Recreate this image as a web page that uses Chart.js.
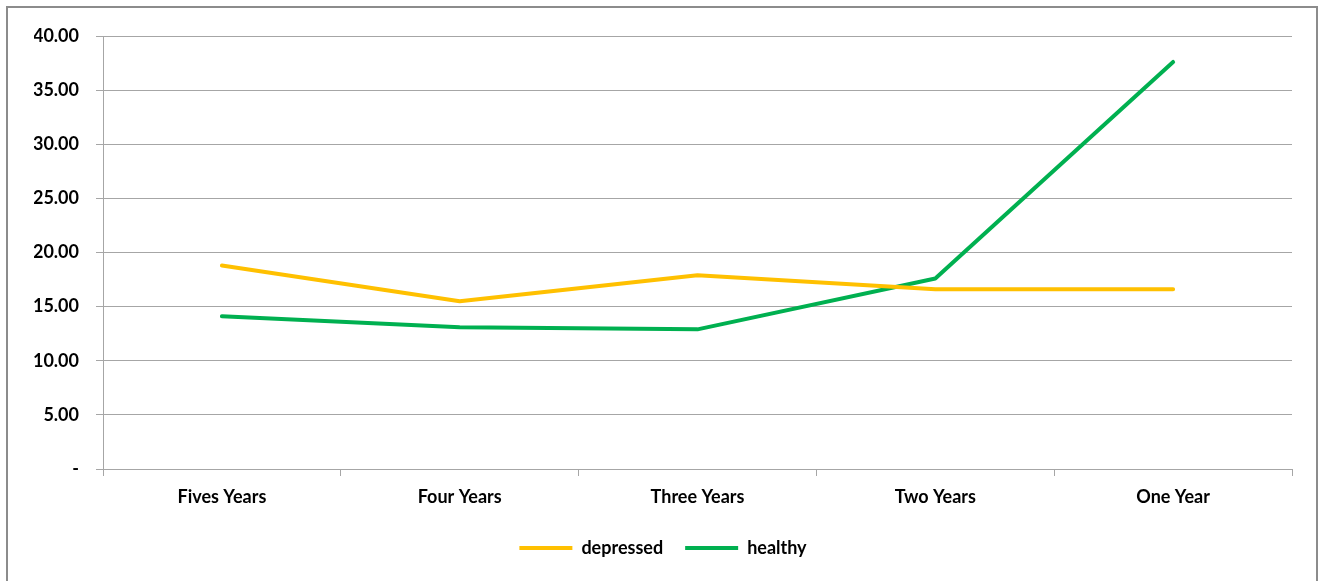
<!DOCTYPE html>
<html>
<head>
<meta charset="utf-8">
<script src="https://cdn.jsdelivr.net/npm/chart.js@4/dist/chart.umd.min.js"></script>
<style>
  html, body { margin: 0; padding: 0; background: #ffffff; }
  #wrap { position: relative; width: 1325px; height: 581px; }
</style>
</head>
<body>
<div id="wrap"><canvas id="chart" width="1325" height="581"></canvas></div>
<script>
// Time before event, one category per year
const categories = ['Fives Years', 'Four Years', 'Three Years', 'Two Years', 'One Year'];

// Series values
const depressed = [18.8, 15.5, 17.9, 16.6, 16.6];
const healthy = [14.1, 13.1, 12.9, 17.6, 37.6];

// Value axis labels, bottom to top
const yTickLabels = ['-', '5.00', '10.00', '15.00', '20.00', '25.00', '30.00', '35.00', '40.00'];

const FONT = 'Lato, "Open Sans", "Liberation Sans", sans-serif';
const GRID = '#a6a6a6';
const TEXT_FONT = { family: FONT, size: 18, weight: 'bold' };

// Thin grey frame around the whole chart
const framePlugin = {
  id: 'frame',
  beforeDraw(chart) {
    const ctx = chart.ctx;
    ctx.save();
    ctx.fillStyle = '#ffffff';
    ctx.fillRect(0, 0, chart.width, chart.height);
    ctx.strokeStyle = '#8c8c8c';
    ctx.lineWidth = 2;
    ctx.strokeRect(7, 7, 1310, 640);
    ctx.restore();
  }
};

new Chart(document.getElementById('chart'), {
  type: 'line',
  data: {
    labels: categories,
    datasets: [
      {
        label: 'depressed',
        data: depressed,
        borderColor: '#ffc000',
        backgroundColor: '#ffc000',
        borderWidth: 4,
        borderCapStyle: 'round',
        borderJoinStyle: 'round',
        pointRadius: 0,
        tension: 0
      },
      {
        label: 'healthy',
        data: healthy,
        borderColor: '#00b050',
        backgroundColor: '#00b050',
        borderWidth: 4,
        borderCapStyle: 'round',
        borderJoinStyle: 'round',
        pointRadius: 0,
        tension: 0
      }
    ]
  },
  options: {
    responsive: false,
    animation: false,
    layout: { padding: { top: 36, right: 33, left: 34, bottom: 14 } },
    plugins: {
      tooltip: { enabled: false },
      legend: {
        position: 'bottom',
        labels: {
          font: TEXT_FONT,
          color: '#000000',
          boxWidth: 53,
          boxHeight: 4,
          padding: 22,
          generateLabels(chart) {
            return chart.data.datasets.map((ds, i) => ({
              text: ds.label,
              fillStyle: ds.borderColor,
              strokeStyle: ds.borderColor,
              lineWidth: 0,
              hidden: false,
              datasetIndex: i,
              fontColor: '#000000'
            }));
          }
        }
      }
    },
    scales: {
      x: {
        offset: true,
        grid: {
          offset: true,
          drawOnChartArea: false,
          drawTicks: true,
          tickLength: 7,
          color: GRID
        },
        border: { display: true, color: GRID, width: 1 },
        ticks: {
          padding: 10,
          color: '#000000',
          font: TEXT_FONT
        },
        afterFit(scale) { scale.height = 48; }
      },
      y: {
        min: 0,
        max: 40,
        grid: {
          color: GRID,
          lineWidth: 1,
          drawTicks: true,
          tickLength: 7
        },
        border: { display: true, color: GRID, width: 1 },
        ticks: {
          stepSize: 5,
          padding: 17,
          color: '#000000',
          font: TEXT_FONT,
          callback(value, index) { return yTickLabels[index]; }
        },
        afterFit(scale) { scale.width = 69; }
      }
    }
  },
  plugins: [framePlugin]
});
</script>
</body>
</html>
